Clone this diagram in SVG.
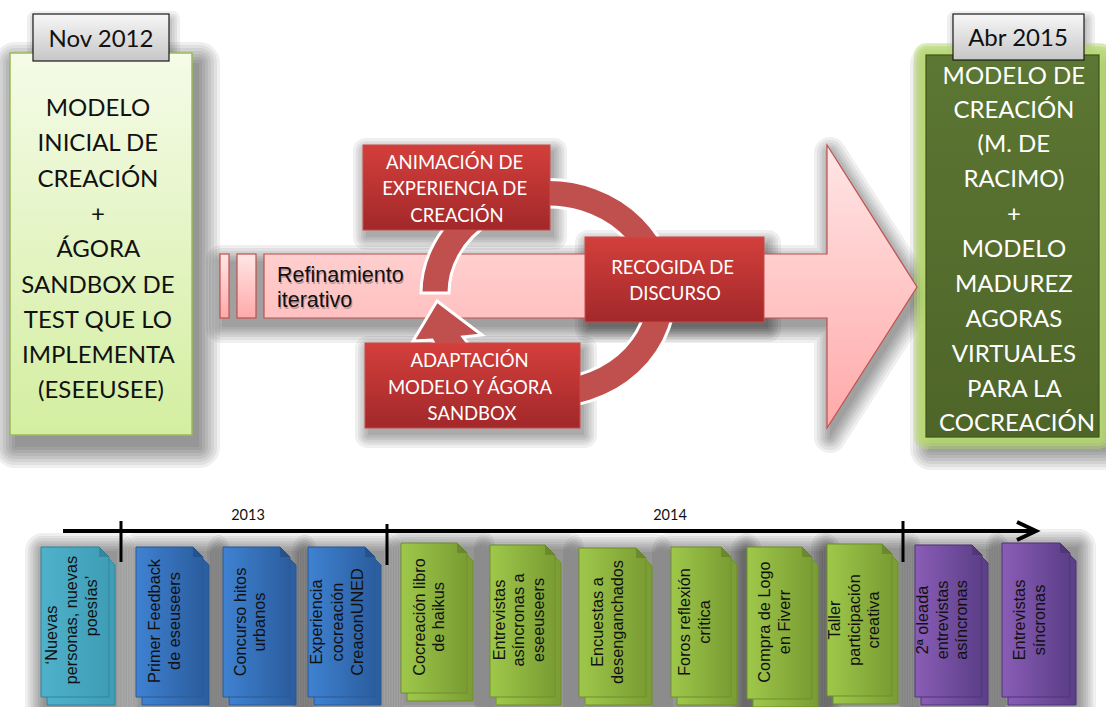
<svg xmlns="http://www.w3.org/2000/svg" width="1106" height="707" viewBox="0 0 1106 707">
  <defs>
    <style>
      .cal { font-family: Lato, "Open Sans", sans-serif; }
      .ari { font-family: "Liberation Sans", Arial, sans-serif; }
      .bigL { font-size: 24px; fill: #111; text-anchor: middle; }
      .bigR { font-size: 24px; fill: #fff; text-anchor: middle; }
      .date { font-size: 24px; fill: #111; text-anchor: middle; }
      .step { font-size: 18.5px; fill: #fff; text-anchor: middle; }
      .card { font-size: 16.3px; fill: #111; text-anchor: middle; }
      .year { font-size: 14.5px; fill: #111; text-anchor: middle; }
      .shaft { fill: url(#gArrow); stroke: #c0504d; stroke-width: 1.2; }
      .redbox { fill: url(#gRed); stroke: #c94a48; stroke-width: 1; }
      .fold { fill: #000; fill-opacity: 0.15; }
      .axis { stroke: #000; stroke-width: 4; fill: none; }
      .tick { stroke: #000; stroke-width: 3; }
      .halo { fill: #000; stroke: #000; stroke-linejoin: round; }
      .halo use { opacity: 0.06; }
      .glowset { fill: #b8dc6e; stroke: #b8dc6e; stroke-linejoin: round; }
      .glowset use { opacity: 0.45; }
    </style>
    <linearGradient id="gLeft" x1="0" y1="0" x2="0" y2="1">
      <stop offset="0" stop-color="#f5fbe8"/>
      <stop offset="1" stop-color="#d3eea0"/>
    </linearGradient>
    <linearGradient id="gRight" x1="0" y1="0" x2="0" y2="1">
      <stop offset="0" stop-color="#5c7633"/>
      <stop offset="1" stop-color="#4e6528"/>
    </linearGradient>
    <linearGradient id="gDate" x1="0" y1="0" x2="0" y2="1">
      <stop offset="0" stop-color="#f7f7f7"/>
      <stop offset="1" stop-color="#c6c6c6"/>
    </linearGradient>
    <linearGradient id="gArrow" x1="0" y1="0" x2="0" y2="1">
      <stop offset="0" stop-color="#ffe6e6"/>
      <stop offset="1" stop-color="#ffa9a9"/>
    </linearGradient>
    <linearGradient id="gRed" x1="0" y1="0" x2="0" y2="1">
      <stop offset="0" stop-color="#d33f3b"/>
      <stop offset="1" stop-color="#a2282a"/>
    </linearGradient>
    <linearGradient id="gTeal" x1="0" y1="0" x2="1" y2="0">
      <stop offset="0" stop-color="#4fb1ca"/>
      <stop offset="1" stop-color="#3f9db6"/>
    </linearGradient>
    <linearGradient id="gBlue" x1="0" y1="0" x2="1" y2="0">
      <stop offset="0" stop-color="#3f82d2"/>
      <stop offset="1" stop-color="#2b5d9e"/>
    </linearGradient>
    <linearGradient id="gGreen" x1="0" y1="0" x2="1" y2="0">
      <stop offset="0" stop-color="#9fc84a"/>
      <stop offset="1" stop-color="#7a9c33"/>
    </linearGradient>
    <linearGradient id="gPurple" x1="0" y1="0" x2="1" y2="0">
      <stop offset="0" stop-color="#8a5db6"/>
      <stop offset="1" stop-color="#5b3e88"/>
    </linearGradient>

    <!-- outlines used to build the soft shadow halos (stacked translucent strokes) -->
    <rect id="rLeft" x="15" y="63" width="184" height="384"/>
    <rect id="rRight" x="931" y="65" width="174" height="384"/>
    <rect id="rGlow" x="926" y="55" width="173" height="382"/>
    <path id="pArrow" d="M222,261 H830 V153 L921,295 L830,437 V327 H222 Z"/>
    <rect id="rAnim" x="366" y="151" width="188" height="86"/>
    <rect id="rRec" x="588" y="243" width="180" height="86"/>
    <rect id="rAdapt" x="368" y="349" width="216" height="86"/>
    <rect id="rNov" x="35" y="19" width="137" height="47"/>
    <rect id="rAbr" x="955" y="19" width="132" height="46"/>
    <rect id="rCard" x="0" y="0" width="74" height="158"/>
    <g id="haloCard" class="halo">
      <use href="#rCard" stroke-width="0"/>
      <use href="#rCard" stroke-width="5"/>
      <use href="#rCard" stroke-width="10"/>
      <use href="#rCard" stroke-width="15"/>
      <use href="#rCard" stroke-width="20"/>
      <use href="#rCard" stroke-width="25"/>
      <use href="#rCard" stroke-width="30"/>
      <use href="#rCard" stroke-width="36"/>
    </g>
  </defs>

  <rect width="1106" height="707" fill="#fff"/>

  <!-- shadow layer -->
  <g id="shadows">
    <g class="halo">
      <use href="#rLeft" stroke-width="0"/><use href="#rLeft" stroke-width="6"/><use href="#rLeft" stroke-width="12"/>
      <use href="#rLeft" stroke-width="18"/><use href="#rLeft" stroke-width="24"/><use href="#rLeft" stroke-width="30"/>
      <use href="#rLeft" stroke-width="36"/><use href="#rLeft" stroke-width="42"/>
    </g>
    <g class="halo">
      <use href="#rRight" stroke-width="0"/><use href="#rRight" stroke-width="6"/><use href="#rRight" stroke-width="12"/>
      <use href="#rRight" stroke-width="18"/><use href="#rRight" stroke-width="24"/><use href="#rRight" stroke-width="30"/>
      <use href="#rRight" stroke-width="36"/><use href="#rRight" stroke-width="42"/>
    </g>
    <g class="halo">
      <use href="#pArrow" stroke-width="0"/><use href="#pArrow" stroke-width="5"/><use href="#pArrow" stroke-width="10"/>
      <use href="#pArrow" stroke-width="15"/><use href="#pArrow" stroke-width="20"/><use href="#pArrow" stroke-width="26"/>
      <use href="#pArrow" stroke-width="32"/>
    </g>
    <g class="halo">
      <use href="#rAnim" stroke-width="0"/><use href="#rAnim" stroke-width="5"/><use href="#rAnim" stroke-width="10"/>
      <use href="#rAnim" stroke-width="15"/><use href="#rAnim" stroke-width="20"/><use href="#rAnim" stroke-width="26"/>
      <use href="#rRec" stroke-width="0"/><use href="#rRec" stroke-width="5"/><use href="#rRec" stroke-width="10"/>
      <use href="#rRec" stroke-width="15"/><use href="#rRec" stroke-width="20"/><use href="#rRec" stroke-width="26"/>
      <use href="#rAdapt" stroke-width="0"/><use href="#rAdapt" stroke-width="5"/><use href="#rAdapt" stroke-width="10"/>
      <use href="#rAdapt" stroke-width="15"/><use href="#rAdapt" stroke-width="20"/><use href="#rAdapt" stroke-width="26"/>
      <use href="#rNov" stroke-width="0"/><use href="#rNov" stroke-width="5"/><use href="#rNov" stroke-width="10"/>
      <use href="#rNov" stroke-width="16"/>
      <use href="#rAbr" stroke-width="0"/><use href="#rAbr" stroke-width="5"/><use href="#rAbr" stroke-width="10"/>
      <use href="#rAbr" stroke-width="16"/>
    </g>
    <use href="#haloCard" x="43" y="551"/>
    <use href="#haloCard" x="138" y="551"/>
    <use href="#haloCard" x="225" y="551"/>
    <use href="#haloCard" x="310" y="551"/>
    <use href="#haloCard" x="403" y="547"/>
    <use href="#haloCard" x="492" y="549"/>
    <use href="#haloCard" x="581" y="552"/>
    <use href="#haloCard" x="670" y="551"/>
    <use href="#haloCard" x="749" y="551"/>
    <use href="#haloCard" x="829" y="548"/>
    <use href="#haloCard" x="917" y="549"/>
    <use href="#haloCard" x="1004" y="547"/>
  </g>

  <!-- starting state -->
  <g id="node-start">
    <rect x="10" y="53" width="182" height="382" fill="url(#gLeft)" stroke="#9bbb59" stroke-width="1.5"/>
    <text class="cal bigL">
      <tspan x="101" y="116">MODELO</tspan>
      <tspan x="101" y="151.3">INICIAL DE</tspan>
      <tspan x="101" y="186.6">CREACIÓN</tspan>
      <tspan x="101" y="221.9">+</tspan>
      <tspan x="101" y="257.2">ÁGORA</tspan>
      <tspan x="101" y="292.5">SANDBOX DE</tspan>
      <tspan x="101" y="327.8">TEST QUE LO</tspan>
      <tspan x="101" y="363.1">IMPLEMENTA</tspan>
      <tspan x="101" y="398.4">(ESEEUSEE)</tspan>
    </text>
  </g>
  <g id="date-start">
    <rect x="33" y="14" width="136" height="47" fill="url(#gDate)" stroke="#1a1a1a" stroke-width="1.2"/>
    <text class="cal date" x="101" y="46.5">Nov 2012</text>
  </g>

  <!-- final state -->
  <g id="node-end">
    <g class="glowset">
      <use href="#rGlow" stroke-width="6"/><use href="#rGlow" stroke-width="12"/>
      <use href="#rGlow" stroke-width="18"/><use href="#rGlow" stroke-width="24"/>
    </g>
    <rect x="926" y="55" width="173" height="382" fill="url(#gRight)" stroke="#3f5220" stroke-width="1.2"/>
    <text class="cal bigR">
      <tspan x="1017" y="83.5">MODELO DE</tspan>
      <tspan x="1017" y="118.3">CREACIÓN</tspan>
      <tspan x="1017" y="152">(M. DE</tspan>
      <tspan x="1017" y="186.5">RACIMO)</tspan>
      <tspan x="1017" y="221.5">+</tspan>
      <tspan x="1017" y="256.5">MODELO</tspan>
      <tspan x="1017" y="291.5">MADUREZ</tspan>
      <tspan x="1017" y="326.5">AGORAS</tspan>
      <tspan x="1017" y="361.5">VIRTUALES</tspan>
      <tspan x="1017" y="396.5">PARA LA</tspan>
      <tspan x="1017" y="430.5">COCREACIÓN</tspan>
    </text>
  </g>
  <g id="date-end">
    <rect x="953" y="14" width="131" height="46" fill="url(#gDate)" stroke="#1a1a1a" stroke-width="1.2"/>
    <text class="cal date" x="1018" y="46">Abr 2015</text>
  </g>

  <!-- big refinement arrow -->
  <g id="node-refinement">
    <rect class="shaft" x="220" y="254" width="9" height="64"/>
    <rect class="shaft" x="237" y="254" width="19" height="64"/>
    <path class="shaft" d="M264,254 H827 V145 L917,287 L827,428 V318 H264 Z"/>
    <text class="ari" font-size="21.5">
      <tspan x="278" y="283.5" fill="#000" fill-opacity="0.25">Refinamiento</tspan>
      <tspan x="278" y="308.5" fill="#000" fill-opacity="0.25">iterativo</tspan>
    </text>
    <text class="ari" font-size="21.5" fill="#111">
      <tspan x="277" y="282">Refinamiento</tspan>
      <tspan x="277" y="307">iterativo</tspan>
    </text>
  </g>

  <g id="connectors">
    <!-- iteration cycle -->
    <path d="M421,293 A127,114 0 1 1 432,340 L413,341 L437,301 L482,335 L463,337 A99,86 0 1 0 449,293 Z"
          fill="#c0504d" stroke="#fff" stroke-width="3" stroke-linejoin="miter"/>
    <!-- time axis -->
    <line class="axis" x1="63" y1="531" x2="1035" y2="531"/>
    <polyline class="axis" points="1017,522 1036,531 1017,540"/>
    <line class="tick" x1="121" y1="521" x2="121" y2="562"/>
    <line class="tick" x1="387" y1="524" x2="387" y2="565"/>
    <line class="tick" x1="903" y1="521" x2="903" y2="562"/>
  </g>

  <g id="node-animacion">
    <rect class="redbox" x="363" y="145" width="187" height="85"/>
    <text class="cal step">
      <tspan x="457" y="168.5">ANIMACIÓN DE</tspan>
      <tspan x="457" y="195">EXPERIENCIA DE</tspan>
      <tspan x="457" y="221.5">CREACIÓN</tspan>
    </text>
  </g>
  <g id="node-recogida">
    <rect class="redbox" x="585" y="237" width="179" height="85"/>
    <text class="cal step">
      <tspan x="675" y="273.5">RECOGIDA DE</tspan>
      <tspan x="675" y="300">DISCURSO</tspan>
    </text>
  </g>
  <g id="node-adaptacion">
    <rect class="redbox" x="365" y="343" width="215" height="85"/>
    <text class="cal step">
      <tspan x="472" y="366.5">ADAPTACIÓN</tspan>
      <tspan x="472" y="393.5">MODELO Y ÁGORA</tspan>
      <tspan x="472" y="420">SANDBOX</tspan>
    </text>
  </g>

  <text class="cal year" x="248" y="520">2013</text>
  <text class="cal year" x="670" y="520">2014</text>

  <!-- timeline events -->
  <g id="ev-nuevas">
    <path d="M47,555 H105 L115,565 V705 H47 Z" fill="url(#gTeal)" stroke="#31859c"/>
    <path d="M41,547 H99 L109,557 V697 H41 Z" fill="url(#gTeal)" stroke="#31859c"/>
    <path class="fold" d="M99,547 V557 H109 Z"/>
    <g class="ari card">
      <text transform="translate(57,635) rotate(-90)">‘Nuevas</text>
      <text transform="translate(77,620) rotate(-90)">personas, nuevas</text>
      <text transform="translate(97,606) rotate(-90)">poesías’</text>
    </g>
  </g>

  <g id="ev-feedback">
    <path d="M142,555 H199 L209,565 V705 H142 Z" fill="url(#gBlue)" stroke="#2a5a95"/>
    <path d="M136,547 H193 L203,557 V697 H136 Z" fill="url(#gBlue)" stroke="#2a5a95"/>
    <path class="fold" d="M193,547 V557 H203 Z"/>
    <text class="ari card" transform="translate(160,621) rotate(-90)"><tspan x="0" y="0">Primer Feedback</tspan><tspan x="0" y="20">de eseuseers</tspan></text>
  </g>

  <g id="ev-concurso">
    <path d="M229,555 H286 L296,565 V705 H229 Z" fill="url(#gBlue)" stroke="#2a5a95"/>
    <path d="M223,547 H280 L290,557 V697 H223 Z" fill="url(#gBlue)" stroke="#2a5a95"/>
    <path class="fold" d="M280,547 V557 H290 Z"/>
    <text class="ari card" transform="translate(246,622) rotate(-90)"><tspan x="0" y="0">Concurso hitos</tspan><tspan x="0" y="19">urbanos</tspan></text>
  </g>

  <g id="ev-experiencia">
    <path d="M314,555 H371 L381,565 V705 H314 Z" fill="url(#gBlue)" stroke="#2a5a95"/>
    <path d="M308,547 H365 L375,557 V697 H308 Z" fill="url(#gBlue)" stroke="#2a5a95"/>
    <path class="fold" d="M365,547 V557 H375 Z"/>
    <text class="ari card" transform="translate(322,622) rotate(-90)"><tspan x="0" y="0">Experiencia</tspan><tspan x="0" y="20.5">cocreación</tspan><tspan x="0" y="41">CreaconUNED</tspan></text>
  </g>

  <g id="ev-haikus">
    <path d="M407,551 H463 L473,561 V701 H407 Z" fill="url(#gGreen)" stroke="#6f8f2c"/>
    <path d="M401,543 H457 L467,553 V693 H401 Z" fill="url(#gGreen)" stroke="#6f8f2c"/>
    <path class="fold" d="M457,543 V553 H467 Z"/>
    <text class="ari card" transform="translate(425,617) rotate(-90)"><tspan x="0" y="0">Cocreación libro</tspan><tspan x="0" y="19">de haikus</tspan></text>
  </g>

  <g id="ev-entrevistas-asincronas">
    <path d="M496,553 H551 L561,563 V705 H496 Z" fill="url(#gGreen)" stroke="#6f8f2c"/>
    <path d="M490,545 H545 L555,555 V697 H490 Z" fill="url(#gGreen)" stroke="#6f8f2c"/>
    <path class="fold" d="M545,545 V555 H555 Z"/>
    <text class="ari card" transform="translate(505,620) rotate(-90)"><tspan x="0" y="0">Entrevistas</tspan><tspan x="0" y="19">asíncronas a</tspan><tspan x="0" y="38.5">eseeuseers</tspan></text>
  </g>

  <g id="ev-encuestas">
    <path d="M585,556 H642 L652,566 V705 H585 Z" fill="url(#gGreen)" stroke="#6f8f2c"/>
    <path d="M579,548 H636 L646,558 V697 H579 Z" fill="url(#gGreen)" stroke="#6f8f2c"/>
    <path class="fold" d="M636,548 V558 H646 Z"/>
    <text class="ari card" transform="translate(603,622) rotate(-90)"><tspan x="0" y="0">Encuestas a</tspan><tspan x="0" y="20">desenganchados</tspan></text>
  </g>

  <g id="ev-foros">
    <path d="M677,555 H727 L737,565 V705 H677 Z" fill="url(#gGreen)" stroke="#6f8f2c"/>
    <path d="M671,547 H721 L731,557 V697 H671 Z" fill="url(#gGreen)" stroke="#6f8f2c"/>
    <path class="fold" d="M721,547 V557 H731 Z"/>
    <text class="ari card" transform="translate(690,622) rotate(-90)"><tspan x="0" y="0">Foros reflexión</tspan><tspan x="0" y="20">crítica</tspan></text>
  </g>

  <g id="ev-logo">
    <path d="M753,555 H808 L818,565 V707 H753 Z" fill="url(#gGreen)" stroke="#6f8f2c"/>
    <path d="M747,547 H802 L812,557 V699 H747 Z" fill="url(#gGreen)" stroke="#6f8f2c"/>
    <path class="fold" d="M802,547 V557 H812 Z"/>
    <text class="ari card" transform="translate(770,622) rotate(-90)"><tspan x="0" y="0">Compra de Logo</tspan><tspan x="0" y="20">en Fiverr</tspan></text>
  </g>

  <g id="ev-taller">
    <path d="M833,552 H888 L898,562 V704 H833 Z" fill="url(#gGreen)" stroke="#6f8f2c"/>
    <path d="M827,544 H882 L892,554 V696 H827 Z" fill="url(#gGreen)" stroke="#6f8f2c"/>
    <path class="fold" d="M882,544 V554 H892 Z"/>
    <text class="ari card" transform="translate(840,620) rotate(-90)"><tspan x="0" y="0">Taller</tspan><tspan x="0" y="19.5">participación</tspan><tspan x="0" y="38.5">creativa</tspan></text>
  </g>

  <g id="ev-segunda-oleada">
    <path d="M921,553 H978 L988,563 V705 H921 Z" fill="url(#gPurple)" stroke="#4f3578"/>
    <path d="M915,545 H972 L982,555 V697 H915 Z" fill="url(#gPurple)" stroke="#4f3578"/>
    <path class="fold" d="M972,545 V555 H982 Z"/>
    <text class="ari card" transform="translate(928,620) rotate(-90)"><tspan x="0" y="0">2ª oleada</tspan><tspan x="0" y="19.5">entrevistas</tspan><tspan x="0" y="39">asíncronas</tspan></text>
  </g>

  <g id="ev-sincronas">
    <path d="M1008,551 H1066 L1076,561 V705 H1008 Z" fill="url(#gPurple)" stroke="#4f3578"/>
    <path d="M1002,543 H1060 L1070,553 V697 H1002 Z" fill="url(#gPurple)" stroke="#4f3578"/>
    <path class="fold" d="M1060,543 V553 H1070 Z"/>
    <text class="ari card" transform="translate(1025,620) rotate(-90)"><tspan x="0" y="0">Entrevistas</tspan><tspan x="0" y="20">síncronas</tspan></text>
  </g>
</svg>
